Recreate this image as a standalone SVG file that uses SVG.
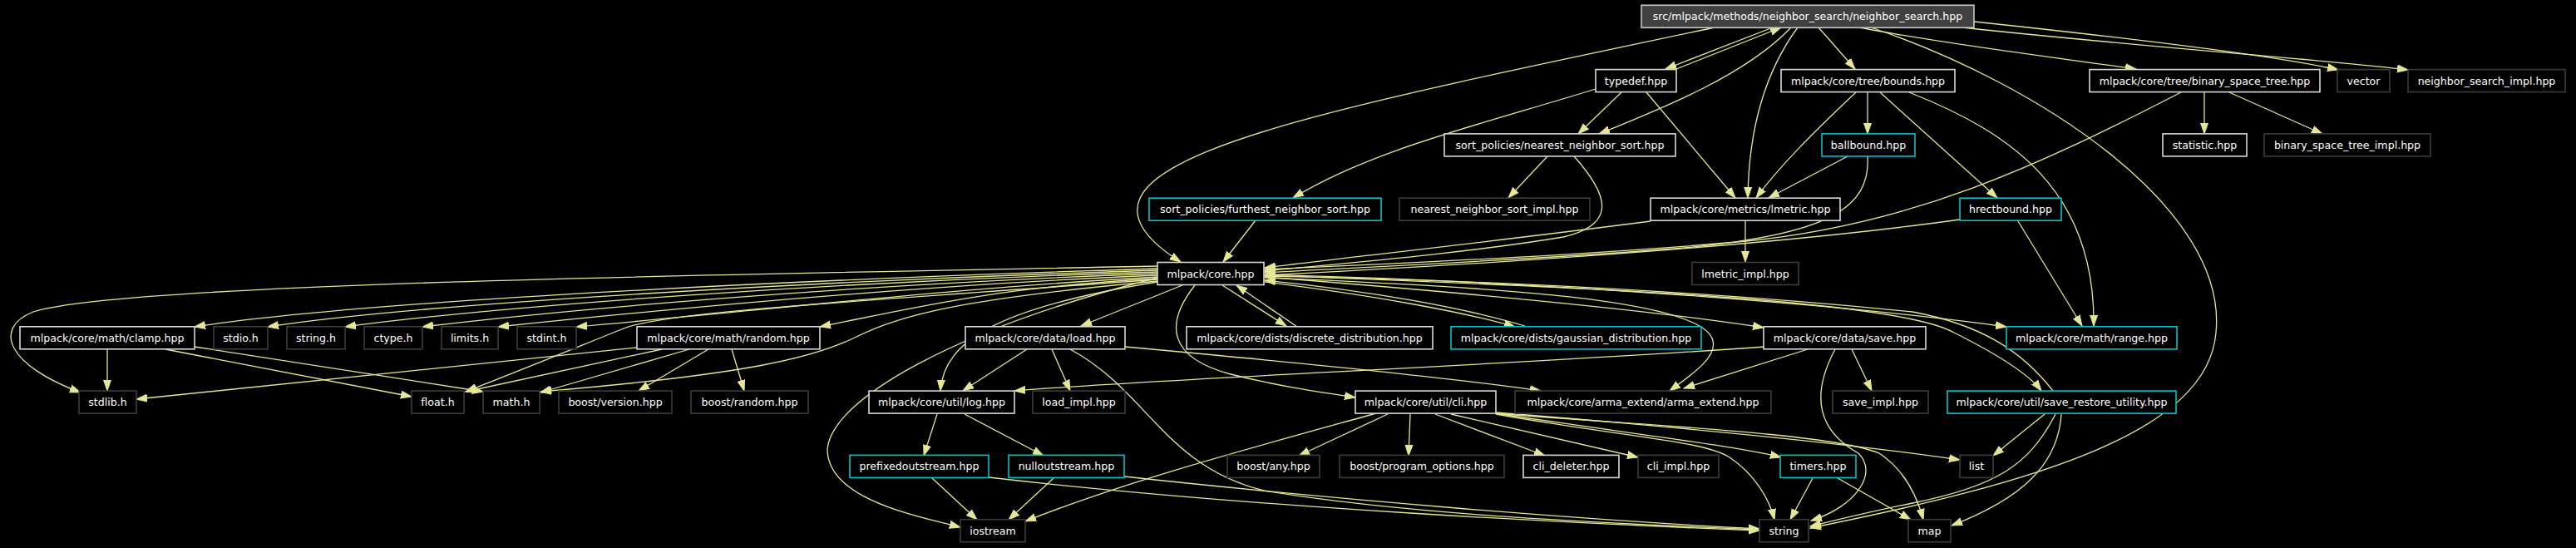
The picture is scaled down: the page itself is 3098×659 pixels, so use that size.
<svg xmlns="http://www.w3.org/2000/svg" width="3098" height="659" viewBox="0 0 3098 659">
<defs>
<style>
.node rect{fill:#000;stroke-width:1.6}
.doc rect{stroke:#d8d8d8}
.ext rect{stroke:#3c3c3c}
.cyan rect{stroke:#00c4c8}
.root rect{fill:#404040;stroke:#c8c8c8}
.node text{font-family:"DejaVu Sans",sans-serif;font-size:12.6px;fill:#ffffff;text-anchor:middle}
.edges path{fill:none;stroke:#e6e696;stroke-width:1.3;marker-end:url(#ah)}
</style>
<marker id="ah" markerWidth="14" markerHeight="11" refX="13" refY="5" orient="auto" markerUnits="userSpaceOnUse">
<path d="M0,0.5 L13,5 L0,9.5 z" fill="#e6e696" stroke="#e6e696" stroke-width="1"/>
</marker>
</defs>
<rect x="0" y="0" width="3098" height="659" fill="#000"/>
<g class="edges" id="edges">
<path d="M2062,33 C1700,110 1440,160 1380,225 C1350,258 1380,290 1420,315"/>
<path d="M2132,33 L2003,83"/>
<path d="M2016,83 L2142,33"/>
<path d="M2154,33 C2100,90 2000,130 1923,161"/>
<path d="M2162,33 C2120,90 2103,160 2102,238"/>
<path d="M2187,33 L2231,83"/>
<path d="M2236,33 C2350,55 2480,70 2569,83"/>
<path d="M2374,26 C2600,50 2740,68 2812,84"/>
<path d="M2360,33 C2560,55 2800,72 2896,84"/>
<path d="M2250,33 C2450,100 2680,250 2665,400 C2655,520 2450,580 2177,635"/>
<path d="M1950,111 L1898,161"/>
<path d="M1980,111 L2087,238"/>
<path d="M1919,107 C1780,150 1650,180 1555,238"/>
<path d="M1861,188 L1814,238"/>
<path d="M1893,188 C1935,235 1945,270 1880,285 C1760,305 1600,318 1521,326"/>
<path d="M1510,265 L1471,315"/>
<path d="M2099,265 L2099,315"/>
<path d="M1985,266 C1800,290 1600,312 1521,322"/>
<path d="M2246,111 L2246,161"/>
<path d="M2232,111 C2180,160 2140,200 2112,238"/>
<path d="M2261,111 L2402,238"/>
<path d="M2296,111 C2420,160 2520,230 2518,392"/>
<path d="M2222,188 L2127,238"/>
<path d="M2246,188 C2250,250 2200,285 2000,300 C1800,315 1600,323 1521,328"/>
<path d="M2357,264 C2100,300 1700,322 1521,331"/>
<path d="M2427,266 L2504,392"/>
<path d="M2651,111 L2651,161"/>
<path d="M2681,111 L2793,161"/>
<path d="M2623,111 C2450,200 2300,270 2100,290 C1900,308 1650,318 1521,324"/>
<path d="M1392,320 C900,330 150,340 40,375 C-10,395 10,440 97,472"/>
<path d="M1392,323 C1000,335 450,360 234,393"/>
<path d="M1392,325 C1000,337 500,365 322,393"/>
<path d="M1392,327 C1000,339 600,368 415,393"/>
<path d="M1392,329 C1050,341 700,370 508,393"/>
<path d="M1392,331 C1100,343 800,372 599,393"/>
<path d="M1392,333 C1150,346 900,375 693,393"/>
<path d="M1392,335 C1200,345 1100,370 986,393"/>
<path d="M1392,336 C1000,365 800,375 750,395 C700,415 640,440 560,471"/>
<path d="M1392,338 C1150,360 1080,380 1030,405 C980,430 900,450 650,471"/>
<path d="M1422,343 L1300,392"/>
<path d="M1392,339 C1200,370 1135,410 1131,470"/>
<path d="M1392,334 C1150,395 1000,480 995,540 C995,600 1100,620 1155,634"/>
<path d="M1470,343 L1547,392"/>
<path d="M1560,393 L1487,343"/>
<path d="M1437,343 C1400,390 1405,430 1480,450 C1540,465 1590,472 1630,478"/>
<path d="M1521,334 C1800,345 2050,360 2060,410 C2065,430 2035,450 2008,470"/>
<path d="M1521,333 C1800,355 2000,375 2121,394"/>
<path d="M1521,339 C1650,355 1760,375 1822,393"/>
<path d="M1834,392 C1760,370 1650,350 1521,337"/>
<path d="M1521,330 C1900,340 2250,370 2413,393"/>
<path d="M1521,331 C1900,345 2280,360 2350,400 C2400,425 2440,450 2455,470"/>
<path d="M2469,470 C2430,420 2380,390 2300,375 C2000,345 1700,335 1521,332"/>
<path d="M1235,420 L1158,470"/>
<path d="M1265,420 L1287,470"/>
<path d="M1353,417 C1550,435 1750,455 1853,470"/>
<path d="M1287,420 C1380,470 1400,560 1520,590 C1700,620 1950,630 2116,637"/>
<path d="M1127,498 L1111,548"/>
<path d="M1160,498 L1255,548"/>
<path d="M1121,575 L1175,625"/>
<path d="M1267,575 L1213,625"/>
<path d="M1189,574 C1500,610 1900,630 2116,638"/>
<path d="M1352,573 C1600,600 1900,625 2116,636"/>
<path d="M1655,497 C1500,540 1350,580 1233,627"/>
<path d="M1669,498 L1562,548"/>
<path d="M1696,498 L1694,548"/>
<path d="M1726,498 L1858,548"/>
<path d="M1745,498 L1970,550"/>
<path d="M1799,497 C1950,520 2080,535 2142,550"/>
<path d="M1799,498 C1950,525 2050,530 2080,550 C2110,570 2128,600 2134,625"/>
<path d="M1799,497 C1950,510 2200,520 2260,545 C2290,565 2305,595 2313,625"/>
<path d="M1799,496 C2000,512 2200,530 2357,553"/>
<path d="M2180,575 L2153,625"/>
<path d="M2210,575 L2298,625"/>
<path d="M2122,417 C1800,440 1400,455 1220,470"/>
<path d="M2174,420 L2025,467"/>
<path d="M2227,420 L2251,470"/>
<path d="M2207,420 C2175,480 2190,520 2235,545 C2260,570 2230,610 2178,626"/>
<path d="M2459,498 L2397,548"/>
<path d="M2472,498 C2440,560 2400,585 2300,605 C2250,615 2210,625 2177,633"/>
<path d="M2479,498 C2475,560 2430,600 2347,632"/>
<path d="M766,418 L164,480"/>
<path d="M796,420 L560,471"/>
<path d="M829,420 L650,472"/>
<path d="M852,420 L768,470"/>
<path d="M880,420 L895,470"/>
<path d="M129,420 L129,470"/>
<path d="M199,420 L495,477"/>
<path d="M234,417 L581,471"/>
</g>
<g id="n_root" class="node root"><rect x="1974" y="6.3" width="400" height="27"/><text x="2174" y="24.3">src/mlpack/methods/neighbor_search/neighbor_search.hpp</text></g>
<g id="n_typedef" class="node doc"><rect x="1919" y="83.6" width="97" height="27"/><text x="1967.5" y="101.6">typedef.hpp</text></g>
<g id="n_bounds" class="node doc"><rect x="2142" y="83.6" width="209" height="27"/><text x="2246.5" y="101.6">mlpack/core/tree/bounds.hpp</text></g>
<g id="n_bst" class="node doc"><rect x="2513" y="83.6" width="277" height="27"/><text x="2651.5" y="101.6">mlpack/core/tree/binary_space_tree.hpp</text></g>
<g id="n_vector" class="node ext"><rect x="2811" y="83.6" width="63" height="27"/><text x="2842.5" y="101.6">vector</text></g>
<g id="n_nsimpl" class="node ext"><rect x="2896" y="83.6" width="189" height="27"/><text x="2990.5" y="101.6">neighbor_search_impl.hpp</text></g>
<g id="n_nns" class="node doc"><rect x="1737" y="160.9" width="278" height="27"/><text x="1876" y="178.9">sort_policies/nearest_neighbor_sort.hpp</text></g>
<g id="n_ballbound" class="node cyan"><rect x="2191" y="160.9" width="112" height="27"/><text x="2247" y="178.9">ballbound.hpp</text></g>
<g id="n_statistic" class="node doc"><rect x="2601" y="160.9" width="101" height="27"/><text x="2651.5" y="178.9">statistic.hpp</text></g>
<g id="n_bstimpl" class="node ext"><rect x="2723" y="160.9" width="200" height="27"/><text x="2823" y="178.9">binary_space_tree_impl.hpp</text></g>
<g id="n_fns" class="node cyan"><rect x="1382" y="238.2" width="279" height="27"/><text x="1521.5" y="256.2">sort_policies/furthest_neighbor_sort.hpp</text></g>
<g id="n_nnsimpl" class="node ext"><rect x="1683" y="238.2" width="229" height="27"/><text x="1797.5" y="256.2">nearest_neighbor_sort_impl.hpp</text></g>
<g id="n_lmetric" class="node doc"><rect x="1985" y="238.2" width="228" height="27"/><text x="2099" y="256.2">mlpack/core/metrics/lmetric.hpp</text></g>
<g id="n_hrect" class="node cyan"><rect x="2357" y="238.2" width="122" height="27"/><text x="2418" y="256.2">hrectbound.hpp</text></g>
<g id="n_core" class="node doc"><rect x="1392" y="315.5" width="128" height="27"/><text x="1456" y="333.5">mlpack/core.hpp</text></g>
<g id="n_lmetricimpl" class="node ext"><rect x="2035" y="315.5" width="128" height="27"/><text x="2099" y="333.5">lmetric_impl.hpp</text></g>
<g id="n_clamp" class="node doc"><rect x="24" y="392.8" width="210" height="27"/><text x="129" y="410.8">mlpack/core/math/clamp.hpp</text></g>
<g id="n_stdio" class="node ext"><rect x="257" y="392.8" width="65" height="27"/><text x="289.5" y="410.8">stdio.h</text></g>
<g id="n_stringh" class="node ext"><rect x="345" y="392.8" width="70" height="27"/><text x="380" y="410.8">string.h</text></g>
<g id="n_ctype" class="node ext"><rect x="438" y="392.8" width="70" height="27"/><text x="473" y="410.8">ctype.h</text></g>
<g id="n_limits" class="node ext"><rect x="531" y="392.8" width="68" height="27"/><text x="565" y="410.8">limits.h</text></g>
<g id="n_stdint" class="node ext"><rect x="622" y="392.8" width="71" height="27"/><text x="657.5" y="410.8">stdint.h</text></g>
<g id="n_random" class="node doc"><rect x="766" y="392.8" width="220" height="27"/><text x="876" y="410.8">mlpack/core/math/random.hpp</text></g>
<g id="n_load" class="node doc"><rect x="1161" y="392.8" width="192" height="27"/><text x="1257" y="410.8">mlpack/core/data/load.hpp</text></g>
<g id="n_discrete" class="node doc"><rect x="1427" y="392.8" width="296" height="27"/><text x="1575" y="410.8">mlpack/core/dists/discrete_distribution.hpp</text></g>
<g id="n_gaussian" class="node cyan"><rect x="1745" y="392.8" width="301" height="27"/><text x="1895.5" y="410.8">mlpack/core/dists/gaussian_distribution.hpp</text></g>
<g id="n_save" class="node doc"><rect x="2121" y="392.8" width="195" height="27"/><text x="2218.5" y="410.8">mlpack/core/data/save.hpp</text></g>
<g id="n_range" class="node cyan"><rect x="2413" y="392.8" width="205" height="27"/><text x="2515.5" y="410.8">mlpack/core/math/range.hpp</text></g>
<g id="n_stdlib" class="node ext"><rect x="95" y="470.1" width="69" height="27"/><text x="129.5" y="488.1">stdlib.h</text></g>
<g id="n_float" class="node ext"><rect x="495" y="470.1" width="63" height="27"/><text x="526.5" y="488.1">float.h</text></g>
<g id="n_math" class="node ext"><rect x="581" y="470.1" width="68" height="27"/><text x="615" y="488.1">math.h</text></g>
<g id="n_bversion" class="node ext"><rect x="672" y="470.1" width="136" height="27"/><text x="740" y="488.1">boost/version.hpp</text></g>
<g id="n_brandom" class="node ext"><rect x="831" y="470.1" width="141" height="27"/><text x="901.5" y="488.1">boost/random.hpp</text></g>
<g id="n_log" class="node doc"><rect x="1045" y="470.1" width="175" height="27"/><text x="1132.5" y="488.1">mlpack/core/util/log.hpp</text></g>
<g id="n_loadimpl" class="node ext"><rect x="1242" y="470.1" width="111" height="27"/><text x="1297.5" y="488.1">load_impl.hpp</text></g>
<g id="n_cli" class="node doc"><rect x="1630" y="470.1" width="169" height="27"/><text x="1714.5" y="488.1">mlpack/core/util/cli.hpp</text></g>
<g id="n_arma" class="node ext"><rect x="1822" y="470.1" width="308" height="27"/><text x="1976" y="488.1">mlpack/core/arma_extend/arma_extend.hpp</text></g>
<g id="n_saveimpl" class="node ext"><rect x="2204" y="470.1" width="115" height="27"/><text x="2261.5" y="488.1">save_impl.hpp</text></g>
<g id="n_sru" class="node cyan"><rect x="2342" y="470.1" width="275" height="27"/><text x="2479.5" y="488.1">mlpack/core/util/save_restore_utility.hpp</text></g>
<g id="n_prefixed" class="node cyan"><rect x="1022" y="547.4" width="167" height="27"/><text x="1105.5" y="565.4">prefixedoutstream.hpp</text></g>
<g id="n_null" class="node cyan"><rect x="1213" y="547.4" width="139" height="27"/><text x="1282.5" y="565.4">nulloutstream.hpp</text></g>
<g id="n_bany" class="node ext"><rect x="1476" y="547.4" width="111" height="27"/><text x="1531.5" y="565.4">boost/any.hpp</text></g>
<g id="n_bpo" class="node ext"><rect x="1611" y="547.4" width="198" height="27"/><text x="1710" y="565.4">boost/program_options.hpp</text></g>
<g id="n_clideleter" class="node doc"><rect x="1832" y="547.4" width="115" height="27"/><text x="1889.5" y="565.4">cli_deleter.hpp</text></g>
<g id="n_cliimpl" class="node ext"><rect x="1970" y="547.4" width="97" height="27"/><text x="2018.5" y="565.4">cli_impl.hpp</text></g>
<g id="n_timers" class="node cyan"><rect x="2141" y="547.4" width="91" height="27"/><text x="2186.5" y="565.4">timers.hpp</text></g>
<g id="n_list" class="node ext"><rect x="2357" y="547.4" width="40" height="27"/><text x="2377" y="565.4">list</text></g>
<g id="n_iostream" class="node ext"><rect x="1155" y="624.7" width="78" height="27"/><text x="1194" y="642.7">iostream</text></g>
<g id="n_string" class="node ext"><rect x="2116" y="624.7" width="59" height="27"/><text x="2145.5" y="642.7">string</text></g>
<g id="n_map" class="node ext"><rect x="2295" y="624.7" width="51" height="27"/><text x="2320.5" y="642.7">map</text></g>
</svg>
